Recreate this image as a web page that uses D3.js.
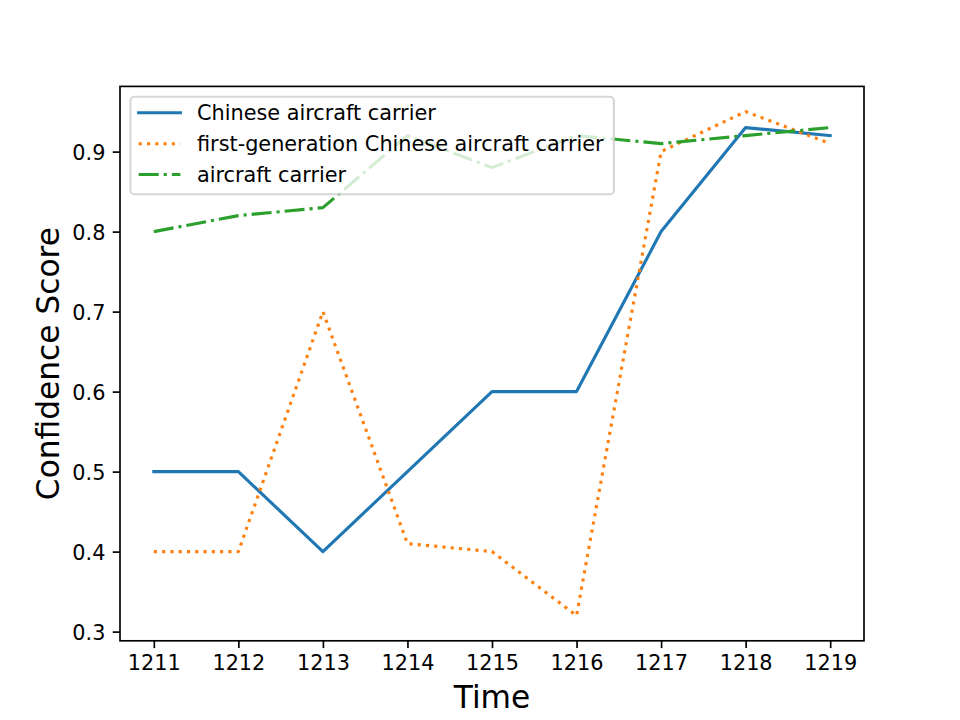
<!DOCTYPE html>
<html>
<head>
<meta charset="utf-8">
<script src="https://cdn.jsdelivr.net/npm/d3@7"></script>
<style>
  body { margin: 0; background: #fff; }
  svg { display: block; font-family: "DejaVu Sans", sans-serif; }
</style>
</head>
<body>
<svg id="chart" width="960" height="720"></svg>
<script>
const times = [1211, 1212, 1213, 1214, 1215, 1216, 1217, 1218, 1219];
const seriesNames = ["Chinese aircraft carrier", "first-generation Chinese aircraft carrier", "aircraft carrier"];
const chineseCarrier = [0.5, 0.5, 0.4, 0.5, 0.6, 0.6, 0.8, 0.93, 0.92];
const firstGenCarrier = [0.4, 0.4, 0.7, 0.41, 0.4, 0.32, 0.9, 0.95, 0.91];
const aircraftCarrier = [0.8, 0.82, 0.83, 0.92, 0.88, 0.92, 0.91, 0.92, 0.93];
const yTicks = [0.3, 0.4, 0.5, 0.6, 0.7, 0.8, 0.9];
const xLabel = "Time";
const yLabel = "Confidence Score";

const colors = ["#1f77b4", "#ff7f0e", "#2ca02c"];
const dashes = [null, "3.125,5.156", "20,5,3.125,5"];
const caps = ["square", "butt", "butt"];
const allSeries = [chineseCarrier, firstGenCarrier, aircraftCarrier];

const svg = d3.select("#chart");
const L = 120, R = 864, T = 86.4, B = 640.8;

const xMin = d3.min(times), xMax = d3.max(times);
const xPad = (xMax - xMin) * 0.05;
const allVals = allSeries.flat();
const yMin = d3.min(allVals), yMax = d3.max(allVals);
const yPad = (yMax - yMin) * 0.05;

const x = d3.scaleLinear().domain([xMin - xPad, xMax + xPad]).range([L, R]);
const y = d3.scaleLinear().domain([yMin - yPad, yMax + yPad]).range([B, T]);

const clip = svg.append("defs").append("clipPath").attr("id", "clip")
  .append("rect").attr("x", L).attr("y", T).attr("width", R - L).attr("height", B - T);

const line = d3.line().x((d, i) => x(times[i])).y(d => y(d));

const plot = svg.append("g").attr("clip-path", "url(#clip)");
allSeries.forEach((s, k) => {
  plot.append("path")
    .datum(s)
    .attr("d", line)
    .attr("fill", "none")
    .attr("stroke", colors[k])
    .attr("stroke-width", 3.125)
    .attr("stroke-linejoin", "round")
    .attr("stroke-linecap", caps[k])
    .attr("stroke-dasharray", dashes[k]);
});

// axes
const xAxis = d3.axisBottom(x).tickValues(times).tickFormat(d3.format("d"))
  .tickSizeInner(7.3).tickSizeOuter(0).tickPadding(7.3);
const yAxis = d3.axisLeft(y).tickValues(yTicks).tickFormat(d3.format(".1f"))
  .tickSizeInner(7.3).tickSizeOuter(0).tickPadding(7.3);

const gx = svg.append("g").attr("transform", `translate(0,${B})`).call(xAxis);
const gy = svg.append("g").attr("transform", `translate(${L},0)`).call(yAxis);
[gx, gy].forEach(g => {
  g.select(".domain").remove();
  g.selectAll(".tick line").attr("stroke", "#000").attr("stroke-width", 1.67);
  g.selectAll(".tick text").attr("fill", "#000").style("font-size", "20.8px")
    .style("font-family", "DejaVu Sans");
});
gy.selectAll(".tick text").attr("dy", "0.36em");

// spines
svg.append("rect").attr("x", L).attr("y", T).attr("width", R - L).attr("height", B - T)
  .attr("fill", "none").attr("stroke", "#000").attr("stroke-width", 1.67);

// axis labels
svg.append("text").attr("x", (L + R) / 2).attr("y", 708)
  .attr("text-anchor", "middle").style("font-size", "31.25px").text(xLabel);
svg.append("text").attr("transform", `translate(58.5,${(T + B) / 2}) rotate(-90)`)
  .attr("text-anchor", "middle").style("font-size", "31.25px").text(yLabel);

// legend
const lg = svg.append("g");
lg.append("rect").attr("x", 130.4).attr("y", 96.8).attr("width", 483.5).attr("height", 97.5)
  .attr("rx", 4).attr("ry", 4)
  .attr("fill", "#fff").attr("fill-opacity", 0.8)
  .attr("stroke", "#cccccc").attr("stroke-opacity", 0.8).attr("stroke-width", 2.08);
const rowY = [112.8, 143.8, 174.5];
seriesNames.forEach((name, k) => {
  lg.append("line").attr("x1", 138.7).attr("x2", 180.4).attr("y1", rowY[k]).attr("y2", rowY[k])
    .attr("stroke", colors[k]).attr("stroke-width", 3.125)
    .attr("stroke-linecap", caps[k]).attr("stroke-dasharray", dashes[k]);
  lg.append("text").attr("x", 197).attr("y", rowY[k]).attr("dy", "0.36em")
    .style("font-size", "20.8px").attr("fill", "#000").text(name);
});
</script>
</body>
</html>
